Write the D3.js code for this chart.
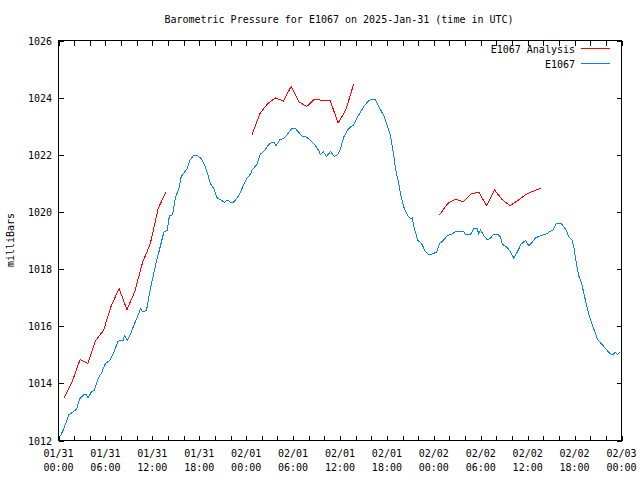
<!DOCTYPE html>
<html>
<head>
<meta charset="utf-8">
<script src="https://cdn.jsdelivr.net/npm/d3@7"></script>
<style>
  html, body { margin: 0; padding: 0; background: #fff; }
  svg { display: block; }
  text { font-family: "DejaVu Sans Mono", "Liberation Mono", monospace; font-size: 10px; fill: #000; }
</style>
</head>
<body>
<svg id="chart" width="640" height="480"></svg>
<script>
// ---- data (hours since 2025-01-31 00:00 UTC) ----
const stationHours = [0.26,0.68,1.32,1.75,2.30,2.72,3.24,3.54,3.80,4.18,4.60,5.08,5.50,6.01,6.56,7.07,7.63,8.27,8.44,8.79,9.21,9.55,10.06,10.49,10.74,11.25,11.55,11.98,12.40,12.83,13.47,13.90,14.19,14.58,14.96,15.38,15.69,16.02,16.46,16.79,17.30,17.74,18.25,18.67,19.02,19.44,19.86,20.29,20.72,21.23,21.57,21.99,22.34,22.76,23.18,23.62,24.04,24.55,24.77,25.41,25.83,26.25,26.89,27.33,27.53,27.84,28.30,28.81,29.32,29.80,30.31,30.73,31.16,31.71,32.23,32.86,33.29,33.50,33.85,34.27,34.78,35.29,35.72,36.06,36.48,36.92,37.34,37.76,38.20,38.62,39.04,39.48,39.81,40.54,40.96,41.60,42.03,42.46,42.88,43.09,43.52,43.82,44.16,44.67,45.01,45.23,45.52,45.95,46.42,46.93,47.35,47.79,48.34,48.76,49.27,49.71,50.35,50.77,51.83,52.05,52.69,53.11,53.54,53.75,53.96,54.39,54.82,55.24,55.59,56.18,56.52,56.74,57.29,57.71,58.22,58.66,59.17,59.72,60.14,60.58,61.00,61.64,62.40,62.70,63.26,63.68,64.19,64.62,65.05,65.26,65.69,65.90,66.24,66.53,66.97,67.39,67.81,68.45,68.96,69.53,70.17,70.59,70.93,71.23,71.52,71.78];
const stationPressure = [1012.17,1012.41,1012.90,1012.98,1013.09,1013.46,1013.60,1013.60,1013.49,1013.69,1013.77,1014.19,1014.36,1014.70,1014.80,1015.09,1015.48,1015.50,1015.67,1015.50,1015.73,1015.97,1016.31,1016.61,1016.51,1016.55,1017.01,1017.60,1018.12,1018.59,1019.29,1019.35,1019.87,1019.90,1020.52,1020.78,1021.24,1021.36,1021.51,1021.80,1021.99,1021.99,1021.86,1021.66,1021.39,1020.98,1020.81,1020.49,1020.42,1020.34,1020.42,1020.34,1020.34,1020.46,1020.63,1020.92,1021.16,1021.33,1021.47,1021.68,1022.03,1022.11,1022.36,1022.44,1022.44,1022.32,1022.52,1022.58,1022.73,1022.91,1022.91,1022.79,1022.64,1022.62,1022.50,1022.32,1022.15,1022.00,1022.11,1021.94,1022.11,1021.94,1022.01,1022.21,1022.62,1022.85,1022.97,1023.05,1023.31,1023.49,1023.69,1023.84,1023.92,1023.92,1023.69,1023.37,1023.02,1022.67,1021.97,1021.51,1020.98,1020.52,1020.17,1019.87,1019.76,1019.79,1019.41,1019.00,1018.90,1018.61,1018.51,1018.53,1018.59,1018.90,1019.02,1019.17,1019.23,1019.31,1019.31,1019.21,1019.21,1019.41,1019.41,1019.23,1019.37,1019.17,1019.03,1019.08,1019.21,1019.21,1019.12,1018.88,1018.77,1018.65,1018.39,1018.59,1018.88,1019.00,1018.82,1018.94,1019.09,1019.17,1019.23,1019.29,1019.37,1019.61,1019.61,1019.49,1019.29,1019.12,1019.02,1018.77,1018.18,1017.77,1017.42,1016.90,1016.43,1015.91,1015.52,1015.36,1015.15,1015.03,1015.01,1015.09,1015.01,1015.09];

// analysis series: null marks a gap in the record
const analysisHours = [0.75,1.75,2.75,3.75,4.75,5.75,6.75,7.75,8.75,9.75,10.75,11.75,12.75,13.75,14.75,
  24.75,25.75,26.75,27.75,28.75,29.75,30.75,31.75,32.75,33.75,34.75,35.75,36.75,37.75,38.75,
  48.75,49.75,50.75,51.75,52.75,53.75,54.75,55.75,56.75,57.75,58.75,59.75,60.75,61.75];
const analysisPressure = [1013.50,1014.06,1014.83,1014.70,1015.50,1015.85,1016.72,1017.32,1016.58,1017.21,1018.23,1018.90,1020.12,1020.71,null,
  1022.70,1023.44,1023.79,1023.99,1023.88,1024.39,1023.85,1023.69,1023.95,1023.90,1023.90,1023.11,1023.57,1024.48,null,
  1019.90,1020.29,1020.45,1020.35,1020.63,1020.69,1020.22,1020.77,1020.43,1020.22,1020.40,1020.61,1020.73,1020.84];

const yTicks = [1012,1014,1016,1018,1020,1022,1024,1026];
const seriesNames = ["E1067 Analysis", "E1067"];
const seriesColors = ["#ff0000", "#0a7fff"];
const titleText = "Barometric Pressure for E1067 on 2025-Jan-31 (time in UTC)";
const yLabel = "milliBars";

// ---- chart ----
const svg = d3.select("#chart");
const L = 58.5, R = 621.5, T = 40.5, B = 440.5;
const t0 = Date.UTC(2025,0,31,0,0);
const toDate = h => new Date(t0 + h*3600000);

const x = d3.scaleUtc().domain([toDate(0), toDate(72)]).range([L, R]);
const y = d3.scaleLinear().domain([1012, 1026]).range([B, T]);

svg.append("text").attr("x", 339).attr("y", 23).attr("text-anchor", "middle").text(titleText);

// ticks
const xTickVals = d3.utcHour.every(2).range(toDate(0), toDate(72.01));
const fmtDate = d3.utcFormat("%m/%d"), fmtTime = d3.utcFormat("%H:%M");

const xAxisB = d3.axisBottom(x).tickValues(xTickVals).tickSize(-5).tickFormat("");
const xAxisT = d3.axisTop(x).tickValues(xTickVals).tickSize(-5).tickFormat("");
const yAxisL = d3.axisLeft(y).tickValues(yTicks).tickSize(-5).tickFormat("");
const yAxisR = d3.axisRight(y).tickValues(yTicks).tickSize(-5).tickFormat("");

function styleAxis(g) {
  g.select(".domain").remove();
  g.selectAll("line").attr("stroke", "#000").attr("shape-rendering", "crispEdges");
}
svg.append("g").attr("transform", `translate(0,${B})`).call(xAxisB).call(styleAxis);
svg.append("g").attr("transform", `translate(0,${T})`).call(xAxisT).call(styleAxis);
svg.append("g").attr("transform", `translate(${L},0)`).call(yAxisL).call(styleAxis);
svg.append("g").attr("transform", `translate(${R},0)`).call(yAxisR).call(styleAxis);

// x labels every 6 hours
const labelVals = xTickVals.filter(d => d.getUTCHours() % 6 === 0);
const xl = svg.append("g");
labelVals.forEach(d => {
  xl.append("text").attr("x", x(d)).attr("y", 457).attr("text-anchor", "middle").text(fmtDate(d));
  xl.append("text").attr("x", x(d)).attr("y", 471).attr("text-anchor", "middle").text(fmtTime(d));
});
// y labels
yTicks.forEach(v => {
  svg.append("text").attr("x", 52).attr("y", y(v) + 4).attr("text-anchor", "end").text(v);
});
svg.append("text").attr("transform", "translate(14,240) rotate(-90)")
  .attr("text-anchor", "middle").text(yLabel);

// border
svg.append("rect").attr("x", L).attr("y", T).attr("width", R - L).attr("height", B - T)
  .attr("fill", "none").attr("stroke", "#000").attr("shape-rendering", "crispEdges");

// lines
const line = d3.line()
  .defined(d => d[1] !== null)
  .x(d => x(toDate(d[0])))
  .y(d => y(d[1]));

const analysisData = analysisHours.map((h, i) => [h, analysisPressure[i]]);
const stationData = stationHours.map((h, i) => [h, stationPressure[i]]);

svg.append("path").datum(analysisData).attr("d", line)
  .attr("fill", "none").attr("stroke", seriesColors[0]).attr("stroke-width", 1)
  .attr("shape-rendering", "crispEdges");
svg.append("path").datum(stationData).attr("d", line)
  .attr("fill", "none").attr("stroke", seriesColors[1]).attr("stroke-width", 1)
  .attr("shape-rendering", "crispEdges");

// legend
seriesNames.forEach((n, i) => {
  const yy = 48.5 + i * 15;
  svg.append("text").attr("x", 575).attr("y", yy + 4).attr("text-anchor", "end").text(n);
  svg.append("line").attr("x1", 581).attr("x2", 610).attr("y1", yy).attr("y2", yy)
    .attr("stroke", seriesColors[i]).attr("stroke-width", 1).attr("shape-rendering", "crispEdges");
});
</script>
</body>
</html>
